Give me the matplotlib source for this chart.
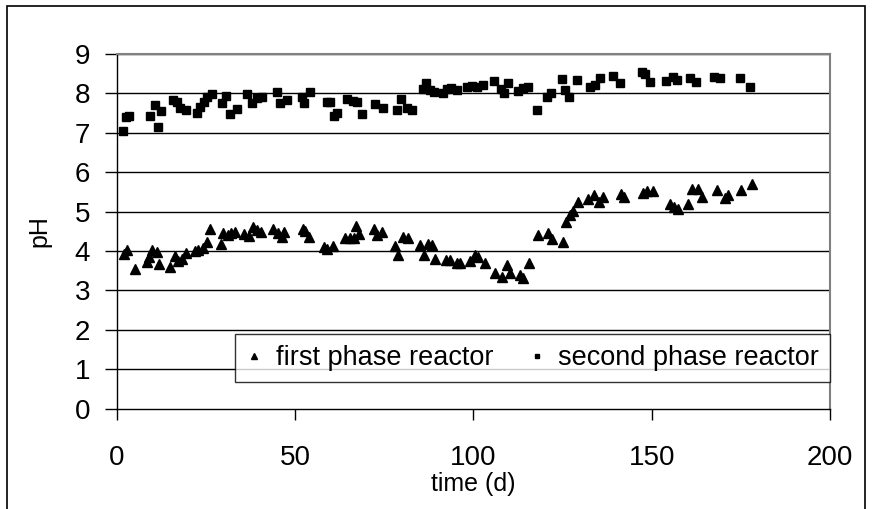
import matplotlib.pyplot as plt
from matplotlib.patches import Rectangle

plt.rcParams['font.family'] = ['Liberation Sans', 'DejaVu Sans']

# first phase reactor (triangles)
days1 = [2, 3, 5.1, 8.4, 9.1, 9.8, 11.2, 12, 14.9, 16.3,
         17.3, 18.2, 19.3, 22, 22.9, 24.1, 25.2, 26.2, 29.2, 29.9,
         31.3, 32, 33.2, 35.7, 37.1, 38.1, 39.2, 40.4, 43.9, 45.3,
         46.3, 46.9, 52.1, 52.8, 54, 58.1, 58.9, 60.7, 64, 65.4,
         66.5, 67.1, 68, 72, 72.9, 74.3, 78, 79, 80.2, 81.8,
         85, 86.2, 87.4, 88.3, 89.2, 92.3, 93.4, 95.3, 96.2, 99,
         100.4, 101.4, 103.3, 106.1, 107.9, 109.3, 110.3, 113.1, 114, 115.7,
         118.2, 121, 122, 125, 125.9, 127.1, 128, 129.2, 132.2, 133.9,
         135.2, 136.4, 141.4, 142.2, 147.4, 148.6, 150.3, 155.1, 156.3, 157.3,
         160.1, 161.2, 162.9, 164, 168.2, 170.5, 171.3, 174.9, 178]
ph1 = [3.92, 4.02, 3.54, 3.73, 3.86, 4.03, 3.98, 3.67, 3.60, 3.87,
       3.75, 3.79, 3.96, 4.01, 4.03, 4.07, 4.24, 4.55, 4.17, 4.45,
       4.41, 4.45, 4.49, 4.42, 4.38, 4.60, 4.53, 4.49, 4.55, 4.45,
       4.35, 4.49, 4.55, 4.51, 4.36, 4.11, 4.04, 4.13, 4.34, 4.34,
       4.34, 4.63, 4.42, 4.55, 4.41, 4.49, 4.13, 3.90, 4.36, 4.32,
       4.15, 3.90, 4.19, 4.15, 3.81, 3.77, 3.77, 3.70, 3.70, 3.75,
       3.90, 3.86, 3.70, 3.45, 3.35, 3.64, 3.45, 3.39, 3.31, 3.69,
       4.41, 4.47, 4.30, 4.24, 4.73, 4.91, 5.01, 5.25, 5.31, 5.42,
       5.25, 5.38, 5.44, 5.38, 5.46, 5.52, 5.52, 5.19, 5.13, 5.07,
       5.19, 5.57, 5.57, 5.38, 5.55, 5.34, 5.42, 5.55, 5.69]

# second phase reactor (squares)
days2 = [1.7, 2.6, 3.5, 9.3, 10.7, 11.7, 12.4, 15.7, 16.8, 17.7,
         19.4, 22.6, 23.4, 24.5, 25.4, 26.6, 29.4, 30.6, 31.8, 33.6,
         36.6, 37.8, 39.2, 40.8, 44.9, 45.8, 47.7, 51.9, 52.5, 54.2,
         58.9, 59.8, 60.9, 61.7, 64.5, 66.3, 67.5, 68.7, 72.4, 74.6,
         78.5, 79.7, 81.3, 82.7, 85.8, 86.7, 87.8, 89.0, 91.6, 92.5,
         93.6, 95.3, 98.3, 99.5, 100.9, 102.8, 105.8, 107.7, 108.6, 109.8,
         112.6, 114.0, 115.4, 117.7, 120.5, 121.7, 124.8, 125.7, 126.7, 129,
         132.7, 134.1, 135.5, 139.2, 141.1, 147.2, 148.1, 149.5, 154, 155.9,
         157, 160.7, 162.4, 167.5, 169.1, 174.7, 177.5]
ph2 = [7.05, 7.39, 7.43, 7.43, 7.71, 7.15, 7.55, 7.83, 7.79, 7.62,
       7.58, 7.51, 7.66, 7.79, 7.90, 7.98, 7.75, 7.93, 7.48, 7.60,
       7.98, 7.75, 7.88, 7.92, 8.04, 7.76, 7.83, 7.92, 7.76, 8.04,
       7.79, 7.79, 7.43, 7.49, 7.85, 7.81, 7.79, 7.48, 7.72, 7.62,
       7.58, 7.86, 7.62, 7.58, 8.10, 8.27, 8.09, 8.04, 8.02, 8.10,
       8.13, 8.09, 8.15, 8.19, 8.17, 8.21, 8.32, 8.10, 8.00, 8.26,
       8.06, 8.13, 8.17, 7.58, 7.92, 8.02, 8.36, 8.09, 7.90, 8.33,
       8.17, 8.21, 8.38, 8.44, 8.26, 8.55, 8.48, 8.30, 8.31, 8.42,
       8.34, 8.38, 8.30, 8.41, 8.38, 8.38, 8.15]

xticks = [0, 50, 100, 150, 200]
yticks = list(range(10))

fig = plt.figure(figsize=(8.72, 5.09), dpi=100)
ax = fig.add_axes([0.1338, 0.197, 0.8182, 0.697])

for y in yticks[1:]:
    ax.axhline(y, color='black', lw=1.0, zorder=1)

ax.plot(days1, ph1, linestyle='none', marker='^', ms=7.5, color='black',
        label='first phase reactor', zorder=3)
ax.plot(days2, ph2, linestyle='none', marker='s', ms=5.8, color='black',
        label='second phase reactor', zorder=3)

ax.set_xlim(0, 200)
ax.set_ylim(0, 9)
ax.set_xticks(xticks)
ax.set_yticks(yticks)
ax.tick_params(axis='x', direction='out', length=8, width=1, pad=18, labelsize=20)
ax.tick_params(axis='y', direction='out', length=9, width=1, pad=10, labelsize=20)

for s in ['left', 'bottom']:
    ax.spines[s].set_color('black')
    ax.spines[s].set_linewidth(1.0)
for s in ['top', 'right']:
    ax.spines[s].set_color('#808080')
    ax.spines[s].set_linewidth(1.5)

ax.set_xlabel('time (d)', fontsize=18, labelpad=1)
ax.set_ylabel('pH', fontsize=18, labelpad=17)

leg = ax.legend(loc='lower right', bbox_to_anchor=(1.0, 0.075),
                ncol=2, fontsize=19.5, frameon=True, fancybox=False,
                edgecolor='black', markerscale=0.55, handlelength=0.6,
                handletextpad=0.5, columnspacing=1.3, borderpad=0.4,
                borderaxespad=0)
leg.get_frame().set_linewidth(1.0)
leg.set_zorder(5)

fig.patches.append(Rectangle((0.008, -0.05), 0.984, 1.038, transform=fig.transFigure,
                             fill=False, edgecolor='black', lw=1.2))

fig.savefig('out.png', dpi=100)
